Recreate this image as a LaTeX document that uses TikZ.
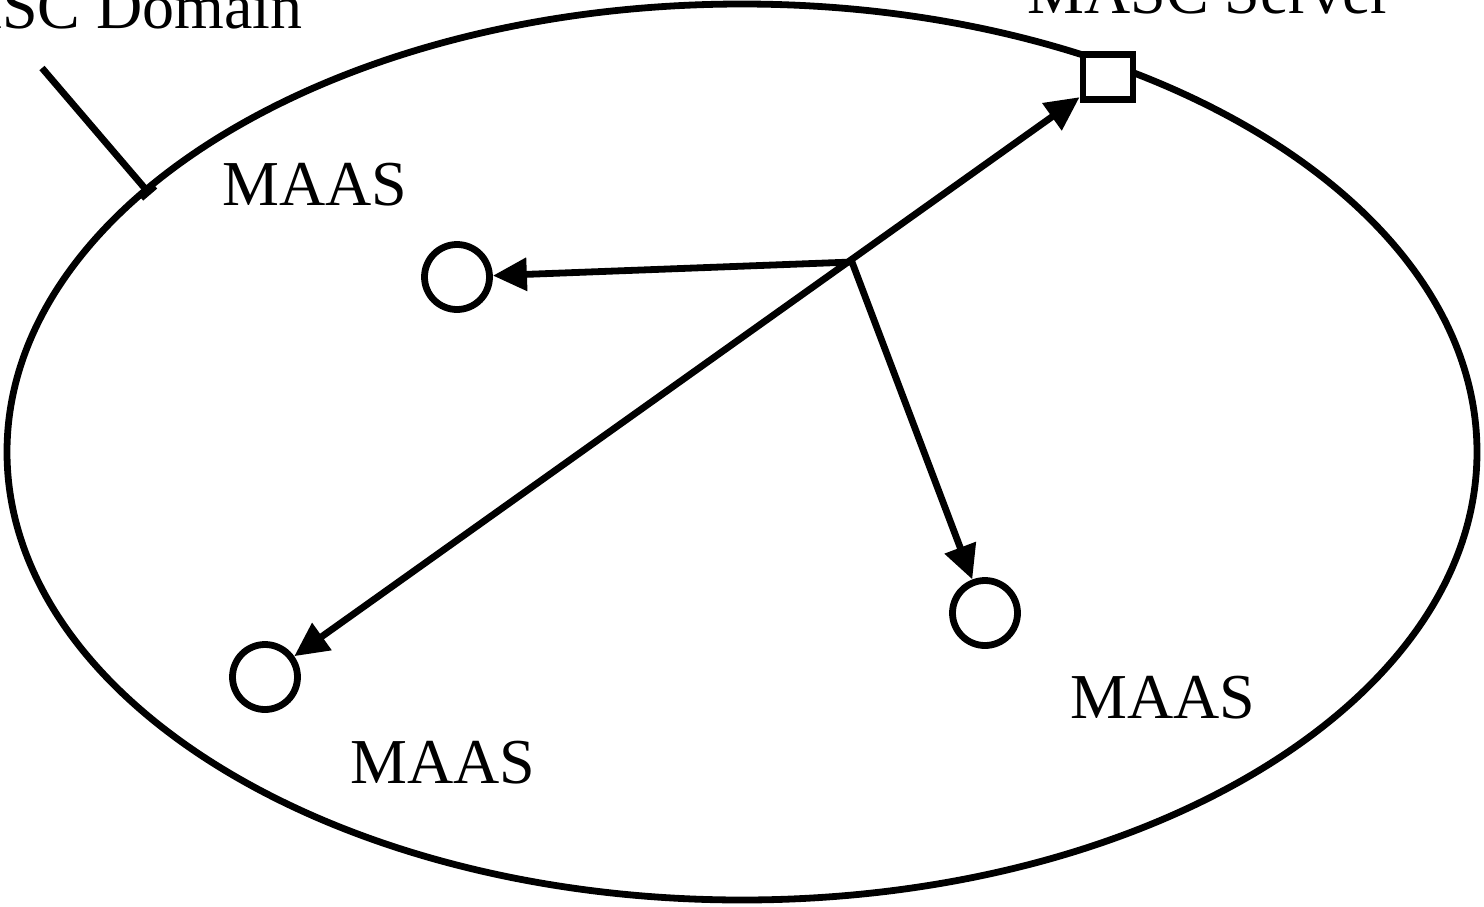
\documentclass[tikz,border=0pt]{standalone}
\usepackage{fontspec}
\setmainfont{Liberation Serif}
\usetikzlibrary{arrows.meta,shapes.geometric,calc}
\begin{document}
\begin{tikzpicture}[x=0.5pt,y=-0.5pt,
  line width=3.4pt,
  lbl/.style={font=\fontsize{32pt}{36pt}\selectfont, inner sep=0pt},
  agent/.style={draw, circle, minimum size=32.5pt, inner sep=0pt},
  server/.style={draw, rectangle, minimum width=25pt, minimum height=22.5pt, inner sep=0pt},
  arr/.style={-{Triangle[length=17pt,width=16pt]}},
  darr/.style={{Triangle[length=17pt,width=16pt]}-{Triangle[length=17pt,width=16pt]}}]
\useasboundingbox (0,0) rectangle (1484,906);
\node[draw, ellipse, minimum width=735pt, minimum height=448pt, inner sep=0pt] (dom) at (742,452) {};
\node[server, fill=white] (srv) at (1108,77) {};
\node[agent] (c1) at (457,277) {};
\node[agent] (c2) at (985,613) {};
\node[agent] (c3) at (265,677) {};
\coordinate (hub) at (852,262);
\draw[darr] (c3) -- (srv);
\draw[arr] (hub) -- (c1);
\draw[arr] (hub) -- (c2);
\node[lbl, anchor=base east] (tdom) at (306,28) {MASC Domain};
\node[lbl, anchor=base west] (tsrv) at (1024,13) {MASC Server};
\node[lbl, anchor=base west] (m1) at (219,205) {MAAS};
\node[lbl, anchor=base west] (m2) at (1067,718) {MAAS};
\node[lbl, anchor=base west] (m3) at (347,783) {MAAS};
\coordinate (lead) at (42,68);
\coordinate (leadend) at (148,192);
\draw (lead) -- (leadend);
\draw ($(leadend)+(-7,6)$) -- ($(leadend)+(7,-6)$);
\end{tikzpicture}
\end{document}
